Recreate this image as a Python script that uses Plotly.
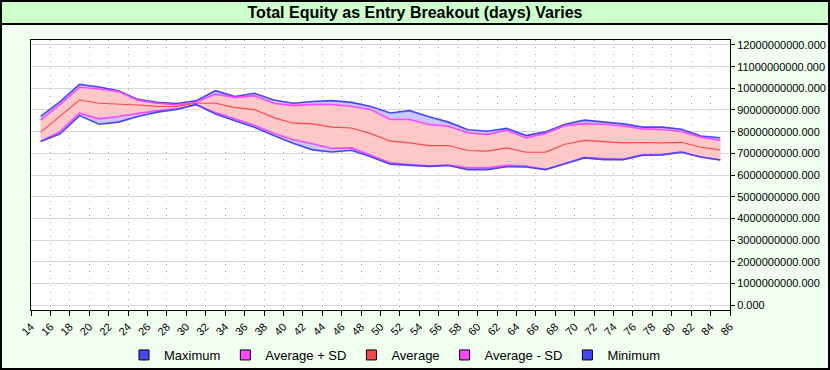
import plotly.graph_objects as go

days = [15, 17, 19, 21, 23, 25, 27, 29, 31, 33, 35, 37, 39, 41, 43, 45, 47, 49,
        51, 53, 55, 57, 59, 61, 63, 65, 67, 69, 71, 73, 75, 77, 79, 81, 83, 85]

maximum = [8.70e9, 9.39e9, 10.18e9, 10.06e9, 9.89e9, 9.49e9, 9.36e9, 9.30e9, 9.42e9, 9.89e9,
           9.62e9, 9.77e9, 9.46e9, 9.31e9, 9.39e9, 9.43e9, 9.35e9, 9.16e9, 8.86e9, 8.97e9,
           8.69e9, 8.44e9, 8.09e9, 8.02e9, 8.15e9, 7.82e9, 7.99e9, 8.34e9, 8.53e9, 8.44e9,
           8.36e9, 8.21e9, 8.21e9, 8.11e9, 7.80e9, 7.72e9]

avg_plus_sd = [8.54e9, 9.26e9, 10.05e9, 9.97e9, 9.85e9, 9.45e9, 9.31e9, 9.23e9, 9.36e9, 9.74e9,
               9.57e9, 9.66e9, 9.31e9, 9.20e9, 9.26e9, 9.25e9, 9.17e9, 9.02e9, 8.56e9, 8.56e9,
               8.33e9, 8.25e9, 7.95e9, 7.87e9, 8.07e9, 7.71e9, 7.92e9, 8.28e9, 8.37e9, 8.34e9,
               8.26e9, 8.13e9, 8.10e9, 8.01e9, 7.74e9, 7.60e9]

average = [7.98e9, 8.70e9, 9.46e9, 9.31e9, 9.28e9, 9.23e9, 9.17e9, 9.16e9, 9.31e9, 9.31e9,
           9.11e9, 9.02e9, 8.65e9, 8.39e9, 8.36e9, 8.21e9, 8.17e9, 7.91e9, 7.56e9, 7.48e9,
           7.36e9, 7.36e9, 7.13e9, 7.10e9, 7.25e9, 7.05e9, 7.06e9, 7.42e9, 7.60e9, 7.54e9,
           7.48e9, 7.50e9, 7.48e9, 7.51e9, 7.28e9, 7.16e9]

avg_minus_sd = [7.55e9, 8.01e9, 8.85e9, 8.59e9, 8.70e9, 8.85e9, 8.97e9, 9.05e9, 9.23e9, 8.88e9,
                8.58e9, 8.30e9, 7.93e9, 7.63e9, 7.44e9, 7.22e9, 7.25e9, 6.90e9, 6.56e9, 6.48e9,
                6.42e9, 6.46e9, 6.33e9, 6.33e9, 6.45e9, 6.41e9, 6.25e9, 6.53e9, 6.82e9, 6.76e9,
                6.72e9, 6.94e9, 6.94e9, 7.07e9, 6.83e9, 6.70e9]

minimum = [7.55e9, 7.90e9, 8.74e9, 8.34e9, 8.44e9, 8.70e9, 8.90e9, 9.02e9, 9.26e9, 8.82e9,
           8.50e9, 8.20e9, 7.82e9, 7.47e9, 7.16e9, 7.06e9, 7.14e9, 6.84e9, 6.50e9, 6.44e9,
           6.40e9, 6.44e9, 6.25e9, 6.25e9, 6.38e9, 6.37e9, 6.25e9, 6.52e9, 6.79e9, 6.71e9,
           6.71e9, 6.91e9, 6.93e9, 7.05e9, 6.83e9, 6.69e9]

x_ticks = list(range(14, 87, 2))
y_ticks = [i * 1e9 for i in range(0, 13)]

series_names = ["Maximum", "Average + SD", "Average", "Average - SD", "Minimum"]
series_colors = ["#4646ff", "#ff46ff", "#ff4646", "#ff46ff", "#4646ff"]
series_values = [maximum, avg_plus_sd, average, avg_minus_sd, minimum]

W, H = 830, 370
L, R, T, B = 31, 100, 40, 60
PW, PH = W - L - R, H - T - B


def px(xp):
    return (xp - L) / PW


def py(yp):
    return (H - B - yp) / PH


fig = go.Figure()

# fill bands
fig.add_trace(go.Scatter(x=days, y=maximum, mode="lines", line=dict(width=0),
                         showlegend=False, hoverinfo="skip"))
fig.add_trace(go.Scatter(x=days, y=minimum, mode="lines", line=dict(width=0),
                         fill="tonexty", fillcolor="#c8c8ff",
                         showlegend=False, hoverinfo="skip"))
fig.add_trace(go.Scatter(x=days, y=avg_plus_sd, mode="lines", line=dict(width=0),
                         showlegend=False, hoverinfo="skip"))
fig.add_trace(go.Scatter(x=days, y=avg_minus_sd, mode="lines", line=dict(width=0),
                         fill="tonexty", fillcolor="#ffc8c8",
                         showlegend=False, hoverinfo="skip"))

# lines
for name, col, vals in zip(series_names, series_colors, series_values):
    fig.add_trace(go.Scatter(x=days, y=vals, mode="lines", name=name,
                             line=dict(color=col, width=1.6 if name != "Average" else 1.2),
                             showlegend=False))

# legend swatches
for name, col in zip(series_names, series_colors):
    fig.add_trace(go.Scatter(x=[None], y=[None], mode="markers", name=name,
                             marker=dict(symbol="square", size=10, color=col,
                                         line=dict(color="black", width=1))))

fig.update_layout(
    width=W, height=H,
    autosize=False,
    margin=dict(l=L, r=R, t=T, b=B, autoexpand=False),
    paper_bgcolor="#f0fff0",
    plot_bgcolor="white",
    font=dict(family="Liberation Sans, Arial, sans-serif", size=11, color="black"),
    title=dict(text="Total Equity as Entry Breakout (days) Varies",
               x=0.5, xanchor="center", xref="container",
               y=1 - 12 / H, yanchor="middle", yref="container",
               font=dict(size=16, weight="bold", color="black")),
    showlegend=True,
    legend=dict(orientation="h", x=px(124), xanchor="left",
                y=py(355), yanchor="middle",
                bgcolor="rgba(0,0,0,0)", font=dict(size=13),
                traceorder="normal"),
    xaxis=dict(range=[14, 86], tickmode="array", tickvals=x_ticks,
               ticktext=[str(v) for v in x_ticks], tickangle=-45,
               ticks="outside", ticklen=5, tickcolor="black", automargin=False,
               showline=True, mirror=True, linecolor="black", linewidth=1,
               showgrid=True, gridcolor="#a8a8a8", griddash="1px,6px", gridwidth=1,
               zeroline=False, tickfont=dict(size=11)),
    yaxis=dict(range=[-0.23e9, 12.23e9], side="right", tickmode="array",
               tickvals=y_ticks, ticktext=[f"{v:.3f}" for v in y_ticks],
               ticks="outside", ticklen=4, tickcolor="black", automargin=False,
               showline=True, mirror=True, linecolor="black", linewidth=1,
               showgrid=True, gridcolor="#d8d8d8", gridwidth=1,
               zeroline=False, tickfont=dict(size=11)),
    shapes=[
        dict(type="rect", xref="paper", yref="paper",
             x0=px(0), x1=px(W), y0=py(24), y1=py(0),
             fillcolor="#ccffcc", line=dict(color="black", width=2), layer="below"),
        dict(type="rect", xref="paper", yref="paper",
             x0=px(0), x1=px(W), y0=py(H), y1=py(0),
             fillcolor="rgba(0,0,0,0)", line=dict(color="black", width=4), layer="above"),
    ],
)

fig.write_html("out.html",
               config={"displayModeBar": False},
               post_script="document.body.style.margin='0';document.body.style.overflow='hidden';")
